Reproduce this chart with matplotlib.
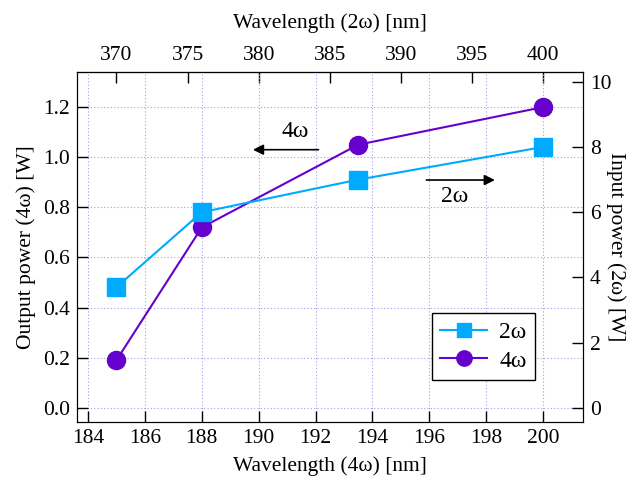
import matplotlib.pyplot as plt

plt.rcParams["font.family"] = ["Liberation Serif", "DejaVu Serif"]
plt.rcParams["font.size"] = 15.5

# data
wavelength_4w = [185, 188, 193.5, 200]
power_4w = [0.19, 0.72, 1.05, 1.20]   # output power, left axis [W]
power_2w = [3.7, 6.0, 7.0, 8.0]       # input power, right axis [W]

bottom_ticks = [184, 186, 188, 190, 192, 194, 196, 198, 200]
top_ticks = [370, 375, 380, 385, 390, 395, 400]
left_ticks = [0.0, 0.2, 0.4, 0.6, 0.8, 1.0, 1.2]
right_ticks = [0, 2, 4, 6, 8, 10]

c2w = "#00aaff"
c4w = "#6600cc"

fig, ax = plt.subplots(figsize=(6.33, 4.8), dpi=100)
fig.subplots_adjust(left=0.121, right=0.921, bottom=0.121, top=0.85)
ax2 = ax.twinx()

l4, = ax.plot(wavelength_4w, power_4w, color=c4w, lw=1.5, marker="o",
              markersize=13, label="4ω", zorder=3)
l2, = ax2.plot(wavelength_4w, power_2w, color=c2w, lw=1.5, marker="s",
               markersize=12.5, label="2ω", zorder=3)

ax.set_xlim(183.6, 201.4)
ax.set_ylim(-0.056, 1.34)
ax2.set_ylim(-0.43, 10.3)

ax.set_xticks(bottom_ticks)
ax.set_yticks(left_ticks)
ax.set_yticklabels([f"{v:.1f}" for v in left_ticks])
ax2.set_yticks(right_ticks)

ax.grid(True, color="#9f9fee", linestyle=(0, (1, 2)), lw=0.8)
ax.set_axisbelow(True)

ax.tick_params(direction="in", length=8, width=1, pad=5)
ax2.tick_params(direction="in", length=8, width=1, pad=5)

top = ax.secondary_xaxis("top", functions=(lambda x: 2 * x, lambda x: x / 2))
top.set_xticks(top_ticks)
top.tick_params(direction="in", length=8, width=1, pad=5)
top.set_xlabel("Wavelength (2ω) [nm]", labelpad=13)

ax.set_xlabel("Wavelength (4ω) [nm]", labelpad=6)
ax.set_ylabel("Output power (4ω) [W]", labelpad=5)
ax2.set_ylabel("Input power (2ω) [W]", rotation=270, labelpad=10)

# arrows showing which axis each curve belongs to
ax.annotate("", xy=(189.7, 1.03), xytext=(192.2, 1.03),
            arrowprops=dict(arrowstyle="-|>", color="black", lw=1.2))
ax.text(191.3, 1.06, "4ω", ha="center", va="bottom", fontsize=17)
ax.annotate("", xy=(198.4, 0.909), xytext=(195.8, 0.909),
            arrowprops=dict(arrowstyle="-|>", color="black", lw=1.2))
ax.text(196.9, 0.885, "2ω", ha="center", va="top", fontsize=17)

leg = ax2.legend(handles=[l2, l4], loc="lower right",
                 bbox_to_anchor=(0.905, 0.12), borderaxespad=0,
                 fancybox=False, edgecolor="black", framealpha=1,
                 fontsize=17, handlelength=2.0, borderpad=0.35,
                 labelspacing=0.3, handletextpad=0.5, markerscale=0.85)
leg.get_frame().set_linewidth(1)

fig.savefig("out.png", dpi=100)
